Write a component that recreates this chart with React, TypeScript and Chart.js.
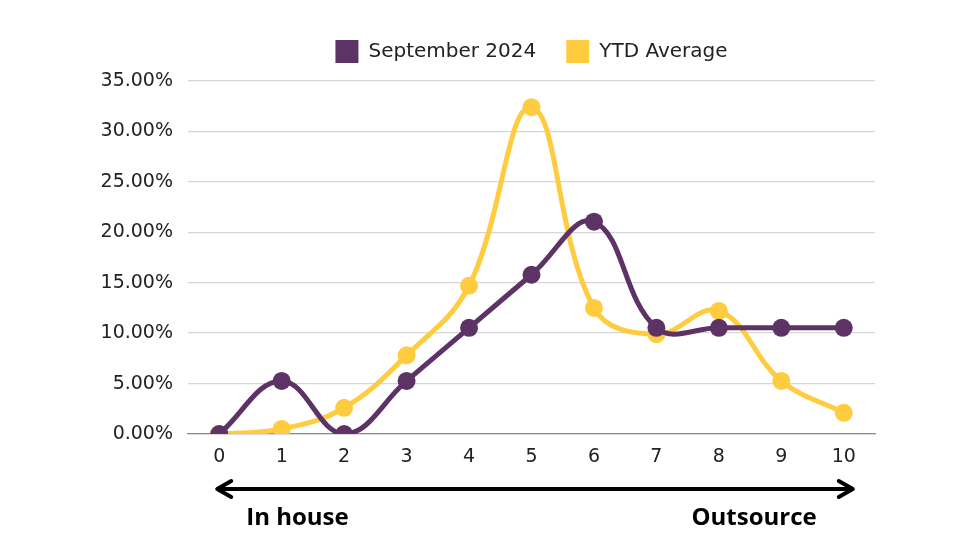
import React, { useEffect, useRef } from 'react';
import Chart from 'chart.js/auto';

// scale position 0..10 (in house -> outsource)
const categories = ['0', '1', '2', '3', '4', '5', '6', '7', '8', '9', '10'];
const september2024 = [0, 5.26, 0, 5.26, 10.53, 15.79, 21.05, 10.53, 10.53, 10.53, 10.53];
const ytdAverage = [0, 0.5, 2.6, 7.8, 14.7, 32.4, 12.5, 9.9, 12.2, 5.26, 2.1];
const yTicks = { min: 0, max: 35, step: 5 };
const leftLabel = 'In house';
const rightLabel = 'Outsource';

const PURPLE = '#5c3364';
const YELLOW = '#ffcb3f';
const FONT = '"DejaVu Sans", sans-serif';

// a bit more room between legend and plot
const legendGap = {
  id: 'legendGap',
  afterInit(chart: any) {
    const legend = chart.legend;
    if (!legend) return;
    const fit = legend.fit;
    legend.fit = function () {
      fit.call(this);
      this.height += 8;
    };
  },
};

// double-headed arrow + labels under the x axis
const arrowPlugin = {
  id: 'arrowBelow',
  afterDraw(chart: any) {
    const { ctx } = chart;
    const x = chart.scales.x;
    const x0 = x.getPixelForValue(0) - 2;
    const x1 = x.getPixelForValue(10) + 9;
    const y = x.bottom + 15;
    ctx.save();
    ctx.strokeStyle = '#000';
    ctx.lineWidth = 4;
    ctx.lineCap = 'round';
    ctx.lineJoin = 'round';
    ctx.beginPath();
    ctx.moveTo(x0 + 2, y);
    ctx.lineTo(x1 - 2, y);
    ctx.moveTo(x0 + 14, y - 8);
    ctx.lineTo(x0, y);
    ctx.lineTo(x0 + 14, y + 8);
    ctx.moveTo(x1 - 14, y - 8);
    ctx.lineTo(x1, y);
    ctx.lineTo(x1 - 14, y + 8);
    ctx.stroke();
    ctx.fillStyle = '#000';
    ctx.font = 'bold 24px "Open Sans", sans-serif';
    ctx.textBaseline = 'alphabetic';
    ctx.textAlign = 'left';
    ctx.fillText(leftLabel, x0 + 29, y + 36);
    ctx.textAlign = 'right';
    ctx.fillText(rightLabel, x1 - 36, y + 36);
    ctx.restore();
  },
};

const App = () => {
  const canvasRef = useRef<HTMLCanvasElement | null>(null);
  const chartRef = useRef<any>(null);

  useEffect(() => {
    if (!canvasRef.current) return;
    if (chartRef.current) chartRef.current.destroy();

    chartRef.current = new Chart(canvasRef.current, {
      type: 'line',
      data: {
        labels: categories,
        datasets: [
          {
            label: 'September 2024',
            data: september2024,
            borderColor: PURPLE,
            backgroundColor: PURPLE,
            borderWidth: 5,
            pointRadius: 9,
            pointHoverRadius: 9,
            pointBorderWidth: 0,
            tension: 0.4,
          },
          {
            label: 'YTD Average',
            data: ytdAverage,
            borderColor: YELLOW,
            backgroundColor: YELLOW,
            borderWidth: 5,
            pointRadius: 9,
            pointHoverRadius: 9,
            pointBorderWidth: 0,
            tension: 0.4,
          },
        ],
      },
      options: {
        responsive: false,
        animation: false,
        layout: { padding: { top: 10, right: 84, bottom: 86, left: 0 } },
        plugins: {
          legend: {
            position: 'top',
            fullSize: false,
            labels: {
              boxWidth: 23,
              boxHeight: 23,
              padding: 30,
              color: '#222',
              font: { family: FONT, size: 20 },
              generateLabels: (chart: any) =>
                Chart.defaults.plugins.legend.labels
                  .generateLabels(chart)
                  .map((l: any) => ({ ...l, lineWidth: 0 })),
            },
          },
          tooltip: { enabled: false },
        },
        scales: {
          x: {
            offset: true,
            grid: { display: false },
            border: { display: true, color: '#8a8a8a', width: 1.3 },
            ticks: { color: '#222', padding: 4, font: { family: FONT, size: 19 } },
            afterFit: (s: any) => {
              s.height = 40;
            },
          },
          y: {
            min: yTicks.min,
            max: yTicks.max,
            grid: { color: '#d6d6d6', lineWidth: 1.3, drawTicks: false },
            border: { display: false },
            ticks: {
              stepSize: yTicks.step,
              padding: 15,
              color: '#222',
              font: { family: FONT, size: 19 },
              callback: (v: any) => `${Number(v).toFixed(2)}%`,
            },
            afterFit: (s: any) => {
              s.width = 188;
            },
          },
        },
      },
      plugins: [legendGap, arrowPlugin],
    });

    return () => {
      if (chartRef.current) {
        chartRef.current.destroy();
        chartRef.current = null;
      }
    };
  }, []);

  return (
    <div style={{ position: 'fixed', left: 0, top: 0, width: 959, height: 560, background: '#fff' }}>
      <canvas ref={canvasRef} width={959} height={560} style={{ width: 959, height: 560 }} />
    </div>
  );
};

export default App;
